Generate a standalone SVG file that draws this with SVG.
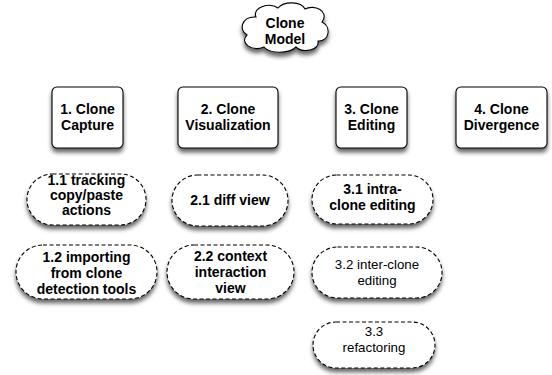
<svg xmlns="http://www.w3.org/2000/svg" width="552" height="375" viewBox="0 0 552 375">
<defs>
<filter id="sh" x="-20%" y="-20%" width="140%" height="160%">
<feDropShadow dx="0" dy="4" stdDeviation="2.2" flood-color="#000" flood-opacity="0.6"/>
</filter>
<style>
.box{fill:#fff;stroke:#000;stroke-width:1.1;filter:url(#sh)}
.pill{fill:#fff;stroke:#000;stroke-width:1.1;stroke-dasharray:4 2.5;filter:url(#sh)}
text{font-family:"Liberation Sans",Arial,Helvetica,sans-serif;text-anchor:middle;fill:#000}
.b{font-weight:bold;font-size:14px}
.r{font-size:13.3px}
</style>
</defs>
<g id="connectors"></g>
<g id="clone-model">
<path class="box" d="M256,17 C252,7 270,2 278,8 C284,1 301,1 305,9 C314,4 330,11 322,22 C332,27 329,42 318,41 C320,51 302,53 296,47 C289,54 270,54 264,47 C252,52 239,43 247,35 C238,30 242,16 256,17 Z"/>
<text class="b" x="285" y="28">Clone</text>
<text class="b" x="285" y="44">Model</text>
</g>
<g id="n1">
<rect class="box" x="52" y="87" width="71" height="61" rx="5"/>
<text class="b" x="87.5" y="114">1. Clone</text>
<text class="b" x="87.5" y="130">Capture</text>
</g>
<g id="n2">
<rect class="box" x="178" y="87" width="100" height="61" rx="5"/>
<text class="b" x="228" y="114">2. Clone</text>
<text class="b" x="228" y="130">Visualization</text>
</g>
<g id="n3">
<rect class="box" x="336" y="87" width="71" height="61" rx="5"/>
<text class="b" x="371.5" y="114">3. Clone</text>
<text class="b" x="371.5" y="130">Editing</text>
</g>
<g id="n4">
<rect class="box" x="456" y="87" width="91" height="61" rx="5"/>
<text class="b" x="501.5" y="114">4. Clone</text>
<text class="b" x="501.5" y="130">Divergence</text>
</g>
<g id="n11">
<rect class="pill" x="27" y="174" width="119" height="51" rx="25.5"/>
<text class="b" x="86.5" y="185">1.1 tracking</text>
<text class="b" x="86.5" y="200">copy/paste</text>
<text class="b" x="86.5" y="215">actions</text>
</g>
<g id="n21">
<rect class="pill" x="172" y="175" width="116" height="51" rx="25.5"/>
<text class="b" x="230" y="205">2.1 diff view</text>
</g>
<g id="n31">
<rect class="pill" x="312" y="175" width="121" height="49" rx="24.5"/>
<text class="b" x="372.5" y="194">3.1 intra-</text>
<text class="b" x="372.5" y="210">clone editing</text>
</g>
<g id="n12">
<rect class="pill" x="16" y="245" width="141" height="54" rx="27"/>
<text class="b" x="86.5" y="262">1.2 importing</text>
<text class="b" x="86.5" y="278">from clone</text>
<text class="b" x="86.5" y="294">detection tools</text>
</g>
<g id="n22">
<rect class="pill" x="167" y="245" width="127" height="54" rx="27"/>
<text class="b" x="230.5" y="261">2.2 context</text>
<text class="b" x="230.5" y="277">interaction</text>
<text class="b" x="230.5" y="293">view</text>
</g>
<g id="n32">
<rect class="pill" x="312" y="247" width="130" height="51" rx="25.5"/>
<text class="r" x="377" y="269">3.2 inter-clone</text>
<text class="r" x="377" y="285">editing</text>
</g>
<g id="n33">
<rect class="pill" x="313" y="322" width="122" height="46" rx="23"/>
<text class="r" x="374" y="336">3.3</text>
<text class="r" x="374" y="352">refactoring</text>
</g>
</svg>
